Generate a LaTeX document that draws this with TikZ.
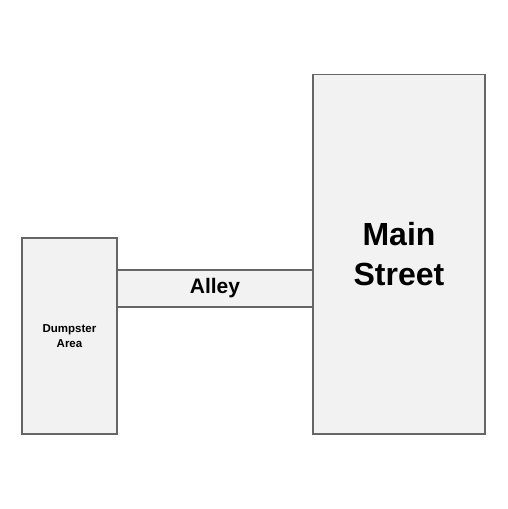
\documentclass[tikz,border=0pt]{standalone}
\usepackage{fontspec}
\setmainfont{Liberation Sans}
\definecolor{lotfill}{HTML}{F2F2F2}
\definecolor{lotline}{HTML}{666666}
\tikzset{
    lot/.style={draw=lotline, fill=lotfill, line width=1.5pt, rectangle, align=center, inner sep=0pt, font=\bfseries}
}
\begin{document}
\begin{tikzpicture}[x=1pt,y=-1pt]
            \useasboundingbox (0,0) rectangle (507,509);
            \node[lot, minimum width=196pt, minimum height=37pt, font=\bfseries\fontsize{21}{25}\selectfont] (alley) at (215,288.5) {Alley};
            \node[lot, minimum width=95pt, minimum height=196pt, font=\bfseries\fontsize{11.5}{15}\selectfont] (dumpster) at (69.5,336) {Dumpster\\Area};
            \node[lot, minimum width=172pt, minimum height=359.5pt, font=\bfseries\fontsize{32}{39.4}\selectfont] (mainst) at (399,254.25) {Main\\Street};
        \end{tikzpicture}
\end{document}
